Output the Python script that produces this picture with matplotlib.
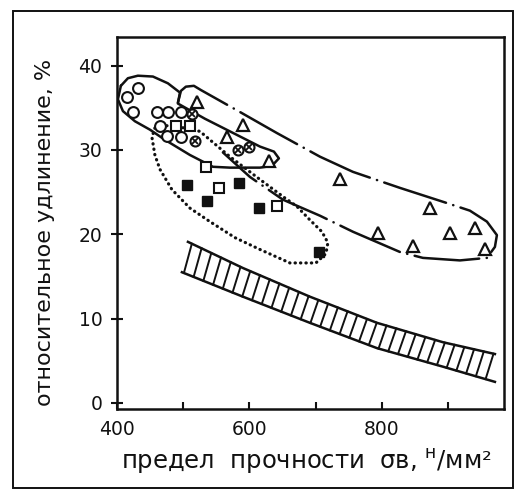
import numpy as np
import matplotlib
matplotlib.use("Agg")
import matplotlib.pyplot as plt
from matplotlib.patches import Rectangle

# ---------------- data (strength N/mm^2, elongation %) ----------------
circles_x = [415, 432, 424, 460, 477, 497, 465, 476, 497]
circles_y = [36.3, 37.3, 34.5, 34.5, 34.5, 34.5, 32.8, 31.6, 31.5]

crossed_x = [513, 518, 583, 599]
crossed_y = [34.2, 31.1, 30.0, 30.3]

open_sq_x = [489, 510, 534, 554, 642]
open_sq_y = [32.8, 32.8, 28.0, 25.5, 23.3]

filled_sq_x = [506, 536, 584, 614, 705]
filled_sq_y = [25.8, 23.9, 26.1, 23.1, 17.9]

tri_x = [521, 590, 566, 630, 737, 873, 794, 847, 903, 941, 956]
tri_y = [35.7, 32.9, 31.5, 28.7, 26.5, 23.1, 20.2, 18.6, 20.1, 20.7, 18.3]

# solid contour (circles group)
solid_x = [406.0, 416.6, 431.7, 454.4, 477.0, 495.2, 492.1, 532.9, 616.0, 637.2,
           644.7, 634.1, 616.0, 570.7, 545.0, 510.3, 472.5, 449.9, 427.2, 409.1, 401.5, 406.0]
solid_y = [37.6, 38.5, 38.8, 38.7, 37.9, 36.8, 35.5, 33.7, 30.4, 29.8,
           29.0, 28.1, 27.9, 27.9, 28.0, 29.4, 31.2, 32.4, 33.4, 34.6, 36.0, 37.6]

# dash-dot contour (triangles group)
dashdot_x = [492.1, 496.7, 504.2, 516.3, 526.9, 585.8, 641.7, 706.7, 756.5, 827.5,
             898.5, 933.2, 958.9, 974.0, 971.0, 958.9, 918.1, 862.2, 827.5, 756.5,
             706.7, 650.8, 600.9, 560.1]
dashdot_y = [35.6, 37.0, 37.5, 37.6, 37.1, 34.5, 32.0, 29.2, 27.4, 25.5,
             23.7, 22.8, 21.5, 19.9, 18.5, 17.2, 16.9, 17.2, 17.9, 20.3,
             22.2, 24.1, 26.8, 29.7]

# dotted contour (squares group)
dotted_x = [457.4, 452.9, 457.4, 465.0, 483.1, 510.3, 540.5, 578.3, 616.0, 661.3,
            700.6, 715.7, 718.7, 709.7, 691.5, 671.9, 653.8, 616.0, 570.7, 540.5,
            525.4, 502.7, 472.5, 457.4]
dotted_y = [32.6, 31.5, 29.4, 27.7, 25.3, 23.1, 21.5, 19.6, 18.2, 16.6,
            16.6, 17.7, 19.0, 20.3, 21.7, 23.3, 24.3, 26.5, 29.2, 31.2,
            32.2, 32.6, 32.9, 32.6]

# hatched band (lower bound)
band_top_x = [507.3, 590.3, 691.5, 792.8, 892.5, 971.0]
band_top_y = [19.1, 16.0, 12.6, 9.5, 7.2, 5.8]
band_bot_x = [498.2, 590.3, 691.5, 792.8, 892.5, 971.0]
band_bot_y = [15.5, 12.6, 9.5, 6.5, 4.3, 2.5]

x_ticks = [400, 500, 600, 700, 800, 900]
x_tick_labels = ["400", "", "600", "", "800", ""]
y_ticks = [0, 10, 20, 30, 40]
y_tick_labels = ["0", "10", "20", "30", "40"]

xlabel = "предел  прочности  σв, $^{\\mathrm{н}}$/мм²"
ylabel = "относительное удлинение, %"

# ---------------- figure ----------------
plt.rcParams["font.family"] = ["DejaVu Sans"]
plt.rcParams["mathtext.fontset"] = "dejavusans"

fig = plt.figure(figsize=(5.15, 4.92), dpi=100)
ax = fig.add_axes([0.227, 0.169, 0.752, 0.756])
ax.set_xlim(400, 985)
ax.set_ylim(-0.7, 43.4)

ink = "#111111"

for s in ax.spines.values():
    s.set_linewidth(1.8)
    s.set_color(ink)

ax.set_xticks(x_ticks)
ax.set_xticklabels(x_tick_labels)
ax.set_yticks(y_ticks)
ax.set_yticklabels(y_tick_labels)
ax.tick_params(axis="x", direction="in", length=5, width=1.5, pad=8,
               labelsize=13.5, colors=ink)
ax.tick_params(axis="y", direction="inout", length=9, width=1.5, pad=6,
               labelsize=13.5, colors=ink)

# contours
ax.plot(solid_x, solid_y, color=ink, lw=1.8, solid_capstyle="round",
        solid_joinstyle="round")
ax.plot(dashdot_x, dashdot_y, color=ink, lw=1.8,
        linestyle=(0, (26, 3, 0.1, 3)), dash_capstyle="round",
        dash_joinstyle="round")
ax.plot(dotted_x, dotted_y, color=ink, lw=2.3,
        linestyle=(0, (0.1, 1.6)), dash_capstyle="round")

# hatched band
ax.plot(band_top_x, band_top_y, color=ink, lw=1.8)
ax.plot(band_bot_x, band_bot_y, color=ink, lw=1.8)
hx = np.arange(band_bot_x[0] + 3, band_top_x[-1] - 12, 14.7)
for xb in hx:
    yb = np.interp(xb, band_bot_x, band_bot_y)
    yt = np.interp(xb + 12, band_top_x, band_top_y)
    ax.plot([xb, xb + 12], [yb, yt], color=ink, lw=1.4)

# markers
ax.plot(circles_x, circles_y, "o", ms=7.8, mfc="white", mec=ink, mew=1.5, ls="none")
ax.plot(crossed_x, crossed_y, "o", ms=7.2, mfc="white", mec=ink, mew=1.5, ls="none")
ax.plot(crossed_x, crossed_y, "x", ms=4, mec=ink, mew=1.3, ls="none")
ax.plot(open_sq_x, open_sq_y, "s", ms=7, mfc="white", mec=ink, mew=1.5, ls="none")
ax.plot(filled_sq_x, filled_sq_y, "s", ms=6.5, mfc=ink, mec=ink, mew=1.0, ls="none")
ax.plot(tri_x, tri_y, "^", ms=8.5, mfc="white", mec=ink, mew=1.6, ls="none")

# labels
fig.text(0.087, 0.528, ylabel, rotation=90, ha="center", va="center",
         fontsize=16, color=ink)
fig.text(0.595, 0.061, xlabel, ha="center", va="center", fontsize=17.5, color=ink)

# outer frame
fig.patches.append(Rectangle((13 / 515, 4 / 492), 500 / 515, 477 / 492,
                             transform=fig.transFigure, fill=False,
                             lw=1.4, ec=ink))

fig.savefig("out.png", dpi=100)
